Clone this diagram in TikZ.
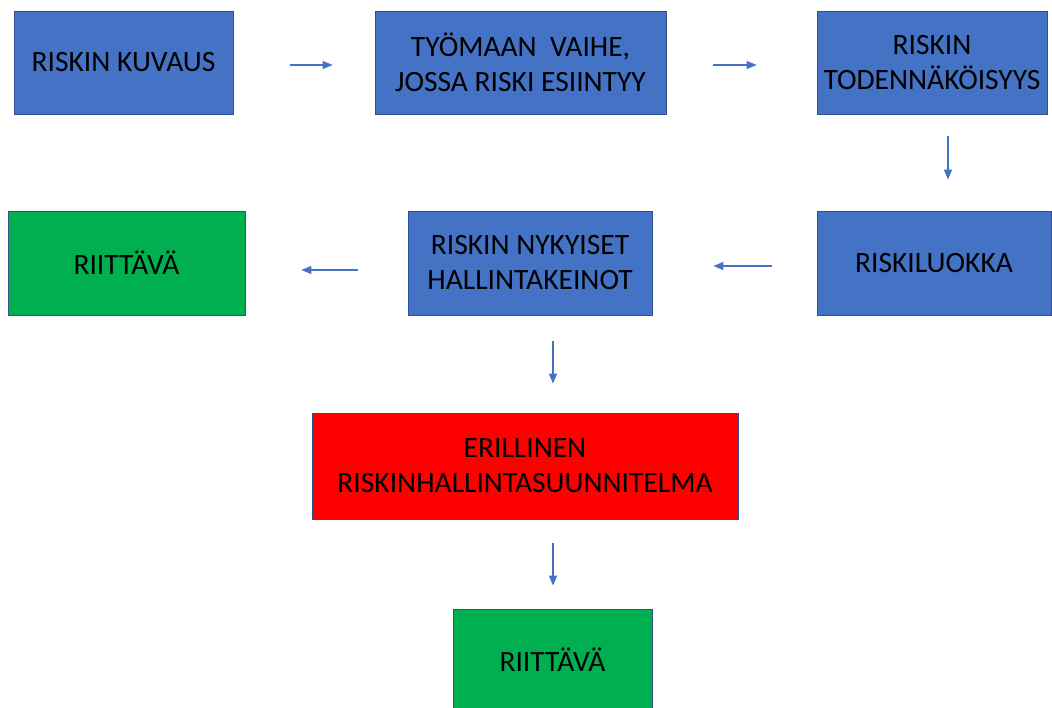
\documentclass[tikz,border=0pt]{standalone}
\usepackage{fontspec}
\setmainfont{Carlito}
\usetikzlibrary{arrows.meta}
\definecolor{boxblue}{HTML}{4472C4}
\definecolor{edgeblue}{HTML}{2F528F}
\definecolor{boxgreen}{HTML}{00B050}
\definecolor{boxred}{HTML}{FF0000}

\begin{document}
\begin{tikzpicture}[x=1pt,y=-1pt,
     bx/.style={draw=edgeblue,line width=0.8pt,inner sep=0pt,align=center,
       font=\fontsize{29.5}{35}\selectfont,text=black},
     bb/.style={bx,fill=boxblue},
     gb/.style={bx,fill=boxgreen},
     rb/.style={bx,fill=boxred},
     ar/.style={draw=boxblue,line width=1.2pt,-{Triangle[length=10pt,width=8pt]}}]
   \useasboundingbox (0,0) rectangle (1052,707);
   % top row
   \node[bb,minimum width=219pt,minimum height=103pt] (kuvaus) at (123.5,62.5) {RISKIN KUVAUS};
   \node[bb,minimum width=291pt,minimum height=103pt] (vaihe) at (520.5,62.5) {TYÖMAAN\ \ VAIHE,\\JOSSA RISKI ESIINTYY};
   \node[bb,minimum width=230pt,minimum height=103pt] (todnak) at (932,62.5) {RISKIN\\TODENNÄKÖISYYS};
   % middle row
   \node[gb,minimum width=237pt,minimum height=104pt] (riitt1) at (126.5,263) {RIITTÄVÄ};
   \node[bb,minimum width=244pt,minimum height=104pt] (nykyiset) at (530,263) {RISKIN NYKYISET\\HALLINTAKEINOT};
   \node[bb,minimum width=234pt,minimum height=104pt] (luokka) at (934,263) {RISKILUOKKA};
   % bottom
   \node[rb,minimum width=426pt,minimum height=106pt] (suunn) at (525,466) {ERILLINEN\\RISKINHALLINTASUUNNITELMA};
   \node[gb,minimum width=199pt,minimum height=102pt] (riitt2) at (552.5,660) {RIITTÄVÄ};
   % arrows
   \draw[ar,shorten <=57pt,shorten >=42pt] ([yshift=-2.5pt]kuvaus.east) -- ([yshift=-2.5pt]vaihe.west);
   \draw[ar,shorten <=47pt,shorten >=60pt] ([yshift=-2.5pt]vaihe.east) -- ([yshift=-2.5pt]todnak.west);
   \draw[ar,shorten <=22pt,shorten >=31pt] ([xshift=16pt]todnak.south) -- ([xshift=14pt]luokka.north);
   \draw[ar,shorten <=45pt,shorten >=61pt] ([yshift=-3pt]luokka.west) -- ([yshift=-3pt]nykyiset.east);
   \draw[ar,shorten <=50pt,shorten >=56pt] ([yshift=-7pt]nykyiset.west) -- ([yshift=-7pt]riitt1.east);
   \draw[ar,shorten <=26pt,shorten >=29pt] ([xshift=23pt]nykyiset.south) -- ([xshift=28pt]suunn.north);
   \draw[ar,shorten <=24pt,shorten >=23pt] ([xshift=28pt]suunn.south) -- ([xshift=0.5pt]riitt2.north);
\end{tikzpicture}
\end{document}
